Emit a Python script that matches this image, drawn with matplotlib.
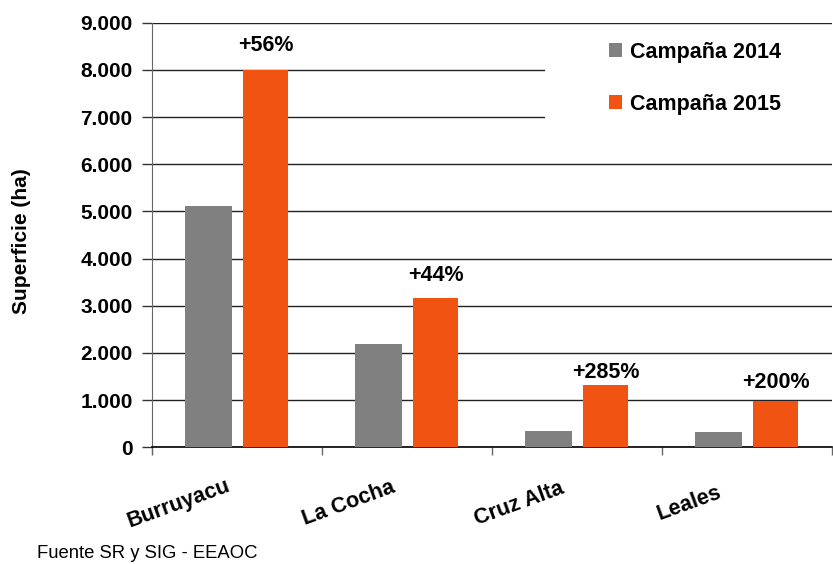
import matplotlib.pyplot as plt
import matplotlib.transforms as mtransforms
from matplotlib.patches import Rectangle
from matplotlib.ticker import FuncFormatter, FixedLocator
import numpy as np

departamentos = ['Burruyacu', 'La Cocha', 'Cruz Alta', 'Leales']
sup_2014 = [5120, 2200, 340, 330]
sup_2015 = [8000, 3170, 1310, 990]
series_names = ['Campaña 2014', 'Campaña 2015']
y_ticks = [0, 1000, 2000, 3000, 4000, 5000, 6000, 7000, 8000, 9000]

GRAY = '#808080'
ORANGE = '#F15412'

plt.rcParams['font.family'] = ['Liberation Sans', 'DejaVu Sans']

fig = plt.figure(figsize=(8.33, 5.64), dpi=100)
ax = fig.add_axes([152 / 833, 116.7 / 564, 680 / 833, 424.6 / 564])

x = np.arange(len(departamentos))
w = 0.275
off = 0.168
ax.bar(x - off, sup_2014, width=w, color=GRAY, zorder=3, label=series_names[0])
ax.bar(x + off, sup_2015, width=w * 0.96, color=ORANGE, zorder=3, label=series_names[1])

ax.set_xlim(-0.5, len(departamentos) - 0.5)
ax.set_ylim(0, 9000)
ax.yaxis.set_major_locator(FixedLocator(y_ticks))
ax.yaxis.set_major_formatter(FuncFormatter(lambda v, p: f'{int(v):,}'.replace(',', '.')))
ax.grid(axis='y', color='#222222', linewidth=1.0, zorder=0)
ax.set_axisbelow(True)

for lab in ax.get_yticklabels():
    lab.set_fontweight('bold')
ax.tick_params(axis='y', labelsize=15, length=7, width=1, color='#333333', pad=7)

# category boundary ticks on the x axis, labels drawn separately
ax.set_xticks(np.arange(-0.5, len(departamentos)))
ax.set_xticklabels([])
ax.tick_params(axis='x', length=6, width=1, color='#666666')

for s in ['top', 'right']:
    ax.spines[s].set_visible(False)
ax.spines['left'].set_color('#666666')
ax.spines['left'].set_bounds(-130, 9000)
ax.spines['bottom'].set_color('black')
ax.spines['bottom'].set_linewidth(1.2)

# rotated category names
trans_lab = ax.get_xaxis_transform() + mtransforms.ScaledTranslation(-58 / 100, -56 / 100, fig.dpi_scale_trans)
for i, name in enumerate(departamentos):
    ax.text(i, 0, name, transform=trans_lab, rotation=20, ha='center', va='center',
            fontsize=15.5, fontweight='bold')

# growth labels above the 2015 bars
label_gap = [14, 12, 2, 8]
for i, (a, b) in enumerate(zip(sup_2014, sup_2015)):
    pct = round((b / a - 1) * 100)
    t = mtransforms.offset_copy(ax.transData, fig=fig, x=0, y=label_gap[i], units='dots')
    ax.text(i + off, b, f'+{pct}%', transform=t, ha='center', va='bottom',
            fontsize=15.5, fontweight='bold')

# white box behind legend hiding gridlines
box = Rectangle((0.578, 6600), 0.43, 2000, transform=ax.get_yaxis_transform(),
                facecolor='white', edgecolor='none', zorder=1)
ax.add_patch(box)

leg = ax.legend(loc='upper left', bbox_to_anchor=(609 / 833, (564 - 42) / 564),
                bbox_transform=fig.transFigure, frameon=False, borderpad=0, borderaxespad=0,
                prop={'weight': 'bold', 'size': 15.5}, handlelength=0.62, handleheight=0.62,
                handletextpad=0.35, labelspacing=1.42)

fig.text(22 / 833, 1 - 241 / 564, 'Superficie (ha)', rotation=90, ha='center', va='center',
         fontsize=15, fontweight='bold')
fig.text(37 / 833, 1 - 553 / 564, 'Fuente SR y SIG - EEAOC', ha='left', va='center',
         fontsize=13.3)

fig.savefig('out.png', dpi=100)
